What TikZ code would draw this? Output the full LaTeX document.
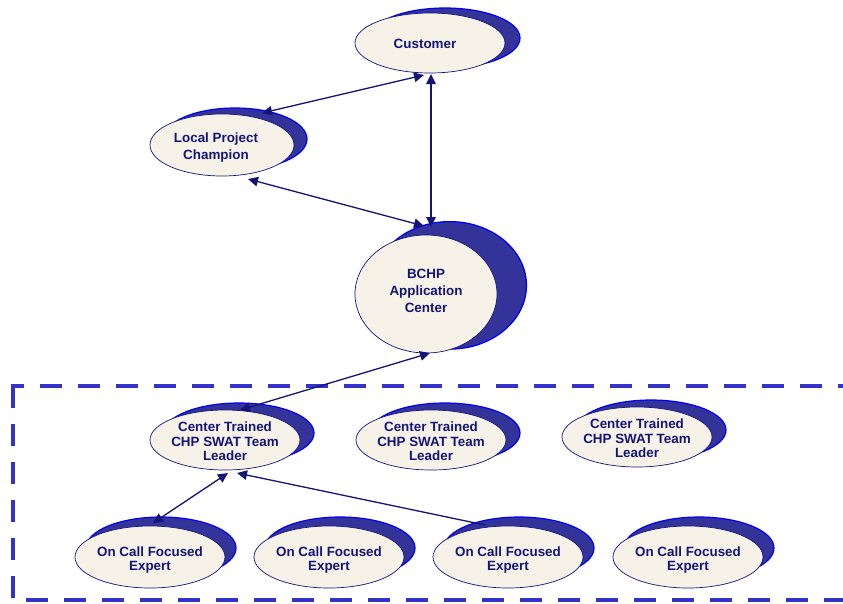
\documentclass[tikz,border=0pt]{standalone}
\usepackage{fontspec}
\setmainfont{Liberation Sans}
\usetikzlibrary{shadows,arrows.meta,shapes.geometric}
\definecolor{navy}{RGB}{20,20,120}
\definecolor{cream}{RGB}{246,242,232}
\definecolor{shad}{RGB}{51,51,153}
\definecolor{rim}{RGB}{0,0,255}
\definecolor{boxc}{RGB}{51,51,204}
\definecolor{txtc}{RGB}{20,20,120}
\tikzset{
  ell/.style n args={5}{ellipse, draw=navy, line width=0.7pt, fill=cream,
    minimum width=#1, minimum height=#2, inner sep=0pt,
    general shadow={shadow xshift=#3, shadow yshift=#4, shadow scale=#5,
      fill=shad, draw=rim, line width=1.2pt}},
  lab/.style={text=txtc, font=\fontsize{13.4}{16.8}\selectfont\bfseries, align=center, inner sep=0pt},
  labtight/.style={lab, font=\fontsize{13.4}{14.5}\selectfont\bfseries},
  conn/.style={draw=navy, line width=1.3pt, >={Triangle[length=10pt,width=9.5pt]}},
  dbox/.style={draw=boxc, line width=4.6pt},
}
\begin{document}
\begin{tikzpicture}[x=1pt,y=-1pt]
\useasboundingbox (0,0) rectangle (843,603);
% dashed group frame
\draw[dbox, dash pattern=on 22pt off 16pt, dash phase=8.7pt] (10.7,386) -- (860,386);
\draw[dbox, dash pattern=on 22pt off 16pt] (13,386) -- (13,602.3);
\draw[dbox, dash pattern=on 22pt off 16pt, dash phase=25pt] (13,600) -- (860,600);
% nodes
\node[ell={150pt}{60pt}{15pt}{5pt}{1}, label={[lab,xshift=-5pt,yshift=-1pt]center:Customer}] (cust) at (430,43) {};
\node[ell={144pt}{62pt}{13pt}{6pt}{1}, label={[lab,xshift=-6pt,yshift=-2.5pt]center:Local Project\\Champion}] (lpc) at (222,145) {};
\node[ell={142pt}{118pt}{22pt}{8pt}{1.08}, label={[lab,yshift=3pt]center:BCHP\\Application\\Center}] (bchp) at (426,294) {};
\node[ell={150pt}{60pt}{14pt}{7pt}{1}, label={[labtight,yshift=-1.5pt]center:Center Trained\\CHP SWAT Team\\Leader}] (ct1) at (225,440) {};
\node[ell={150pt}{60pt}{14pt}{7pt}{1}, label={[labtight,yshift=-1.5pt]center:Center Trained\\CHP SWAT Team\\Leader}] (ct2) at (431,440) {};
\node[ell={150pt}{60pt}{14pt}{7pt}{1}, label={[labtight,yshift=-1.5pt]center:Center Trained\\CHP SWAT Team\\Leader}] (ct3) at (637,437) {};
\node[ell={150pt}{62pt}{11pt}{9pt}{1}, label={[labtight,yshift=-3pt]center:On Call Focused\\Expert}] (oc1) at (150,557) {};
\node[ell={150pt}{62pt}{11pt}{9pt}{1}, label={[labtight,yshift=-3pt]center:On Call Focused\\Expert}] (oc2) at (329,557) {};
\node[ell={150pt}{62pt}{11pt}{9pt}{1}, label={[labtight,yshift=-3pt]center:On Call Focused\\Expert}] (oc3) at (508,557) {};
\node[ell={150pt}{62pt}{11pt}{9pt}{1}, label={[labtight,yshift=-3pt]center:On Call Focused\\Expert}] (oc4) at (688,557) {};
% connectors
\draw[conn,<->] ([shift={(-6,32)}]cust.center) -- ([shift={(40,-32)}]lpc.center);
\draw[conn,<->] ([shift={(1,31)}]cust.center) -- ([shift={(5,-67)}]bchp.center);
\draw[conn,<->] ([shift={(26,34)}]lpc.center) -- ([shift={(-2,-68)}]bchp.center);
\draw[conn,<->] ([shift={(4,59)}]bchp.center) -- ([shift={(15,-30)}]ct1.center);
\draw[conn,<->] ([shift={(3,33)}]ct1.center) -- ([shift={(3,-34)}]oc1.center);
\draw[conn,<-] ([shift={(12,33)}]ct1.center) -- ([shift={(-23,-32)}]oc3.center);
\end{tikzpicture}
\end{document}
